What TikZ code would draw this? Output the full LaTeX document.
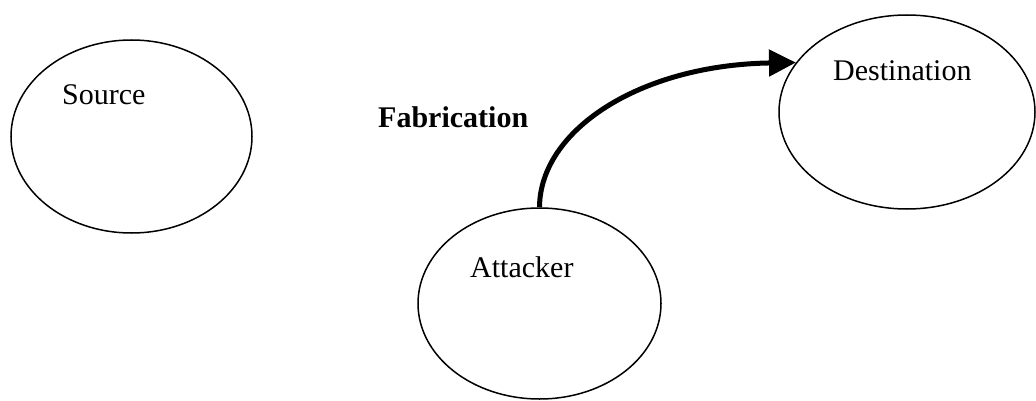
\documentclass[tikz,border=0pt]{standalone}
\usepackage{fontspec}
\setmainfont{Liberation Serif}
\usetikzlibrary{shapes.geometric,arrows.meta}
\begin{document}
\begin{tikzpicture}[x=1pt,y=-1pt,
  party/.style={draw, line width=1.5pt, ellipse, inner sep=0pt},
  caption/.style={anchor=base west, inner sep=0pt, font=\fontsize{30}{32}\selectfont},
  flow/.style={line width=5pt, -{Triangle[length=27pt,width=26pt]}}]
  \useasboundingbox (0,0) rectangle (1036,401);

  % the three parties
  \node[party, minimum width=241pt, minimum height=193pt] (src) at (131.5,136.5) {};
  \node[party, minimum width=256pt, minimum height=194pt] (dst) at (907,112) {};
  \node[party, minimum width=243pt, minimum height=191pt] (att) at (539.5,303.5) {};

  % labels
  \node[caption] (srclbl) at (62,105) {Source};
  \node[caption] (dstlbl) at (833,81) {Destination};
  \node[caption] (attlbl) at (470,277) {Attacker};
  \node[caption, font=\fontsize{30}{32}\selectfont\bfseries] (title) at (378,128) {Fabrication};

  % forged message from the attacker to the destination
  \draw[flow] (att.north) .. controls (540,130) and (640,65) .. (dst.156);
\end{tikzpicture}
\end{document}
